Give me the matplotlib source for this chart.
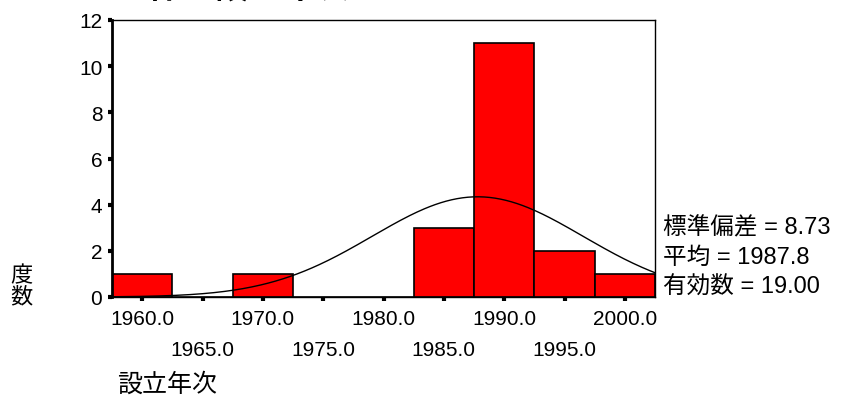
import numpy as np
import matplotlib
matplotlib.use('Agg')
import matplotlib.pyplot as plt

plt.rcParams['font.family'] = ['Liberation Sans', 'Noto Sans CJK JP']

# bin centers (5-year bins) and counts
bin_centers = [1960, 1965, 1970, 1975, 1980, 1985, 1990, 1995, 2000]
counts = [1, 0, 1, 0, 0, 3, 11, 2, 1]
bin_width = 5

std_dev = 8.73
mean = 1987.8
n_valid = 19

x_ticks = [1960, 1965, 1970, 1975, 1980, 1985, 1990, 1995, 2000]
y_ticks = [0, 2, 4, 6, 8, 10, 12]

title = '全体の設立年次'
x_label = '設立年次'
y_label = '度\n数'
stat_lines = ['標準偏差 = %.2f' % std_dev, '平均 = %.1f' % mean, '有効数 = %.2f' % n_valid]

fig = plt.figure(figsize=(8.54, 4.10), dpi=100)
ax = fig.add_axes([112/854, 1-298/410, 543/854, 277/410])

ax.bar(bin_centers, counts, width=bin_width, color='#ff0000', edgecolor='black', linewidth=1.2)

# normal curve scaled to counts
lo = bin_centers[0] - bin_width/2
hi = bin_centers[-1] + bin_width/2
xs = np.linspace(lo, hi, 300)
ys = n_valid * bin_width / (std_dev * np.sqrt(2*np.pi)) * np.exp(-0.5*((xs-mean)/std_dev)**2)
ax.plot(xs, ys, color='black', linewidth=1)

ax.set_xlim(lo, hi)
ax.set_ylim(0, 12)
ax.set_xticks(x_ticks)
ax.set_xticklabels(['%.1f' % t if i % 2 == 0 else '\n%.1f' % t for i, t in enumerate(x_ticks)],
                   fontsize=15, linespacing=1.75)
ax.set_yticks(y_ticks)
ax.set_yticklabels([str(t) for t in y_ticks], fontsize=15)
ax.tick_params(axis='both', direction='out', length=3, width=3, pad=4)
ax.tick_params(axis='x', pad=6)

for s in ['top', 'right', 'bottom']:
    ax.spines[s].set_linewidth(1)
ax.spines['left'].set_linewidth(2)

for i, line in enumerate(stat_lines):
    fig.text(663/854, 1-(228+i*30)/410, line, fontsize=17, ha='left', va='center')

fig.text(21/854, 1-287/410, y_label, fontsize=16, ha='center', va='center', linespacing=1.0)
fig.text(117/854, 1-385/410, x_label, fontsize=18, ha='left', va='center')
# title is almost entirely cut off at the top edge, as in the reference
fig.text(115/854, 1-6/410, title, fontsize=24, fontweight='bold', ha='left', va='bottom')

fig.savefig('out.png', dpi=100)
